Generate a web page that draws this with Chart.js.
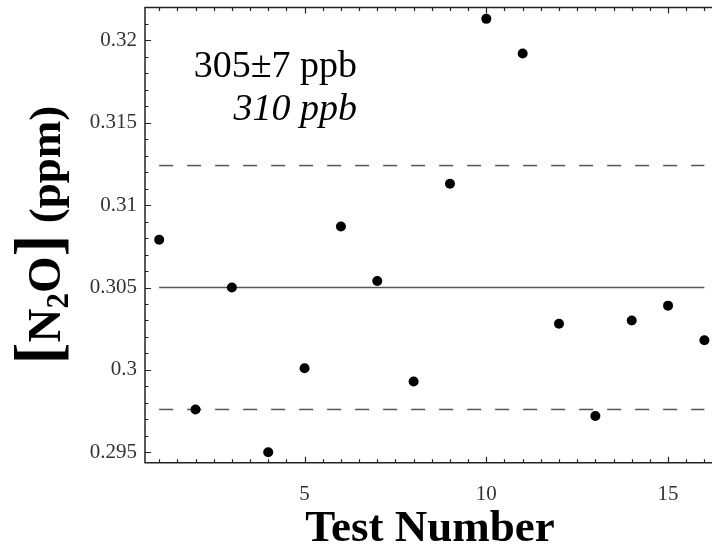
<!DOCTYPE html>
<html>
<head>
<meta charset="utf-8">
<script src="https://cdn.jsdelivr.net/npm/chart.js@4.4.1/dist/chart.umd.min.js"></script>
<style>
  html, body { margin: 0; padding: 0; background: #fff; overflow: hidden; }
  canvas { display: block; }
</style>
</head>
<body>
<canvas id="chart" width="715" height="547"></canvas>
<script>
// N2O concentration for each test run
const testNumbers = [1, 2, 3, 4, 5, 6, 7, 8, 9, 10, 11, 12, 13, 14, 15, 16];
const n2oPpm = [0.3079, 0.2976, 0.3050, 0.2950, 0.3001, 0.3087, 0.3054, 0.2993,
                0.3113, 0.3213, 0.3192, 0.3028, 0.2972, 0.3030, 0.3039, 0.3018];

// mean and ±1σ band
const meanPpm = 0.305;
const bandUpper = 0.3124;
const bandLower = 0.2976;

// axis ticks
const xTickValues = [5, 10, 15];
const xTickLabels = ['5', '10', '15'];
const yTickValues = [0.295, 0.3, 0.305, 0.31, 0.315, 0.32];
const yTickLabels = ['0.295', '0.3', '0.305', '0.31', '0.315', '0.32'];
const xMinorStep = 0.5;
const yMinorStep = 0.001;

// annotation text
const measuredLabel = '305\u00B17 ppb';
const referenceLabel = '310 ppb';
const xTitle = 'Test Number';

const SERIF = '"Liberation Serif", "DejaVu Serif", serif';
const AXIS_COLOR = '#222';

function hLine(y) {
  return [{ x: testNumbers[0], y: y }, { x: testNumbers[testNumbers.length - 1], y: y }];
}

function noScalePadding(s) {
  s.paddingTop = 0; s.paddingBottom = 0; s.paddingLeft = 0; s.paddingRight = 0;
}

// frame with inward major/minor tick marks
const framePlugin = {
  id: 'frame',
  afterDatasetsDraw(chart) {
    const { ctx, chartArea: a, scales: { x, y } } = chart;
    ctx.save();
    ctx.strokeStyle = AXIS_COLOR;
    ctx.lineWidth = 1.5;
    ctx.beginPath();
    ctx.moveTo(a.right + 2, a.top);
    ctx.lineTo(a.left, a.top);
    ctx.lineTo(a.left, a.bottom);
    ctx.lineTo(a.right + 2, a.bottom);
    ctx.stroke();

    ctx.lineWidth = 1.2;
    ctx.beginPath();
    const isMajor = (v, list) => list.some(t => Math.abs(t - v) < 1e-9);
    for (let v = Math.ceil(x.min / xMinorStep) * xMinorStep; v <= x.max + 1e-9; v += xMinorStep) {
      const px = Math.round(x.getPixelForValue(v)) + 0.5;
      const len = isMajor(v, xTickValues) ? 6 : 3.5;
      ctx.moveTo(px, a.bottom); ctx.lineTo(px, a.bottom - len);
      ctx.moveTo(px, a.top); ctx.lineTo(px, a.top + len);
    }
    const n0 = Math.ceil(y.min / yMinorStep - 1e-6);
    for (let k = n0; k * yMinorStep <= y.max + 1e-9; k++) {
      const v = k * yMinorStep;
      const py = Math.round(y.getPixelForValue(v)) + 0.5;
      const len = isMajor(v, yTickValues) ? 6 : 3.5;
      ctx.moveTo(a.left, py); ctx.lineTo(a.left + len, py);
    }
    ctx.stroke();
    ctx.restore();
  }
};

// titles and the annotation block
const textPlugin = {
  id: 'texts',
  afterDraw(chart) {
    const { ctx, chartArea: a } = chart;
    ctx.save();
    ctx.fillStyle = '#000';
    ctx.textBaseline = 'alphabetic';

    // annotation
    ctx.textAlign = 'right';
    ctx.font = '38px ' + SERIF;
    ctx.fillText(measuredLabel, 357, 77);
    ctx.font = 'italic 38px ' + SERIF;
    ctx.fillText(referenceLabel, 357, 120);

    // x axis title
    ctx.textAlign = 'center';
    ctx.font = 'bold 45px ' + SERIF;
    ctx.fillText(xTitle, (a.left + 715) / 2, 541);

    // y axis title: [N2O] (ppm)
    const parts = [
      { t: '[', font: 'bold 66px ' + SERIF, dy: 0 },
      { t: 'N', font: 'bold 47px ' + SERIF, dy: 0 },
      { t: '2', font: 'bold 31px ' + SERIF, dy: 8 },
      { t: 'O', font: 'bold 47px ' + SERIF, dy: 0 },
      { t: ']', font: 'bold 66px ' + SERIF, dy: 0 },
      { t: ' (ppm)', font: 'bold 45px ' + SERIF, dy: 0 }
    ];
    let total = 0;
    parts.forEach(p => { ctx.font = p.font; p.w = ctx.measureText(p.t).width; total += p.w; });
    const cy = (a.top + a.bottom) / 2;
    const baseX = 60;
    ctx.translate(baseX, cy);
    ctx.rotate(-Math.PI / 2);
    ctx.textAlign = 'left';
    let cx = -total / 2;
    parts.forEach(p => {
      ctx.font = p.font;
      ctx.fillText(p.t, cx, p.dy);
      cx += p.w;
    });
    ctx.restore();
  }
};

new Chart(document.getElementById('chart'), {
  type: 'scatter',
  data: {
    datasets: [
      { type: 'line', data: hLine(meanPpm), borderColor: '#555', borderWidth: 1.3,
        pointRadius: 0, fill: false, order: 3 },
      { type: 'line', data: hLine(bandUpper), borderColor: '#555', borderWidth: 1.5,
        borderDash: [14, 14], pointRadius: 0, fill: false, order: 2 },
      { type: 'line', data: hLine(bandLower), borderColor: '#555', borderWidth: 1.5,
        borderDash: [14, 14], pointRadius: 0, fill: false, order: 2 },
      { data: testNumbers.map((t, i) => ({ x: t, y: n2oPpm[i] })),
        backgroundColor: '#000', borderColor: '#000', borderWidth: 0,
        pointRadius: 5, order: 0 }
    ]
  },
  options: {
    responsive: false,
    animation: false,
    devicePixelRatio: 1,
    layout: { padding: { top: 7.5, right: 0, bottom: 0, left: 0 } },
    plugins: { legend: { display: false }, tooltip: { enabled: false } },
    scales: {
      x: {
        type: 'linear', min: 0.61, max: 16.154,
        grid: { display: false }, border: { display: false },
        afterBuildTicks: s => { s.ticks = xTickValues.map(v => ({ value: v })); },
        afterFit: s => { s.height = 84.3; noScalePadding(s); },
        ticks: {
          callback: v => xTickLabels[xTickValues.indexOf(v)],
          font: { family: SERIF, size: 21 }, color: '#333',
          padding: 11, maxRotation: 0, autoSkip: false
        }
      },
      y: {
        type: 'linear', min: 0.29437, max: 0.32199,
        grid: { display: false }, border: { display: false },
        afterBuildTicks: s => { s.ticks = yTickValues.map(v => ({ value: v })); },
        afterFit: s => { s.width = 145; noScalePadding(s); },
        ticks: {
          callback: v => yTickLabels[yTickValues.findIndex(t => Math.abs(t - v) < 1e-9)],
          font: { family: SERIF, size: 21 }, color: '#333',
          padding: 0, autoSkip: false
        }
      }
    }
  },
  plugins: [framePlugin, textPlugin]
});
</script>
</body>
</html>
